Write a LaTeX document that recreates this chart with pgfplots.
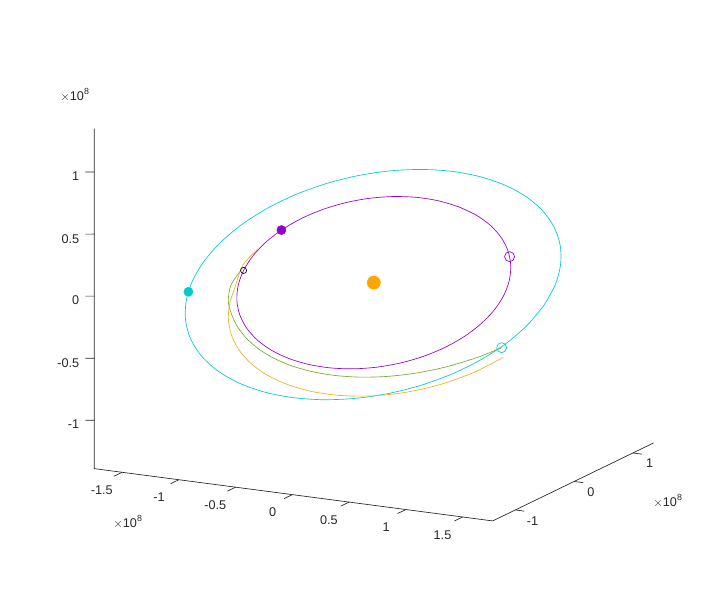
\documentclass[border=0pt]{standalone}
\usepackage{pgfplots}
\pgfplotsset{compat=1.18}
\usepackage{fontspec}
\setmainfont{Liberation Sans}
\definecolor{axiscol}{RGB}{38,38,38}
\definecolor{earthc}{RGB}{0,204,204}
\definecolor{venusc}{RGB}{148,0,211}
\definecolor{greenc}{RGB}{119,172,48}
\definecolor{orangec}{RGB}{237,177,32}
\definecolor{sunc}{RGB}{255,165,0}
\begin{document}
\begin{tikzpicture}
\begin{axis}[
  anchor=origin, at={(0pt,0pt)},
  x={(85.125pt,-11.175pt)}, y={(44.1pt,21.375pt)}, z={(0pt,93.075pt)},
  xmin=-1.745, xmax=1.765, ymin=-1.385, ymax=1.35, zmin=-1.39, zmax=1.35,
  clip=false,
  axis line style={draw=none},
  xtick={-1.5,-1,-0.5,0,0.5,1,1.5}, xticklabels={-1.5,-1,-0.5,0,0.5,1,1.5},
  ytick={-1,0,1}, yticklabels={-1,0,1},
  ztick={-1,-0.5,0,0.5,1}, zticklabels={-1,-0.5,0,0.5,1},
  tick align=outside, major tick length=6.5pt,
  tick style={draw=none},
  ticklabel style={font=\fontsize{9.5}{11}\selectfont, text=axiscol},
  xticklabel style={xshift=-4.5pt, yshift=-3pt},
  zticklabel style={xshift=-2pt, yshift=1pt},
]
% Earth orbit
\addplot3[earthc, line width=0.5pt, smooth] coordinates {
(1.5012,0,0) (1.4742,0.2385,0.1034) (1.4025,0.4683,0.2030) (1.2889,0.6828,0.2960)
(1.1370,0.8754,0.3795) (0.9518,1.0406,0.4512) (0.7388,1.1739,0.5090) (0.5044,1.2716,0.5513)
(0.2557,1.3308,0.5770) (0,1.3502,0.5854) (-0.2554,1.3291,0.5763) (-0.5032,1.2684,0.5500)
(-0.7361,1.1696,0.5071) (-0.9473,1.0357,0.4491) (-1.1305,0.8704,0.3774) (-1.2806,0.6784,0.2941)
(-1.3928,0.4651,0.2016) (-1.4633,0.2367,0.1026) (-1.4900,0,0) (-1.4716,-0.2380,-0.1032)
(-1.4083,-0.4703,-0.2039) (-1.3016,-0.6895,-0.2990) (-1.1544,-0.8889,-0.3854) (-0.9711,-1.0618,-0.4604)
(-0.7571,-1.2030,-0.5216) (-0.5188,-1.3078,-0.5670) (-0.2637,-1.3725,-0.5951) (0,-1.3950,-0.6048)
(0.2640,-1.3743,-0.5959) (0.5201,-1.3112,-0.5685) (0.7600,-1.2077,-0.5236) (0.9759,-1.0670,-0.4626)
(1.1611,-0.8940,-0.3876) (1.3101,-0.6940,-0.3009) (1.4183,-0.4736,-0.2053) (1.4825,-0.2397,-0.1039)
(1.5012,0,0)};
% Venus orbit
\addplot3[venusc, line width=0.5pt, smooth] coordinates {
(0.2493,0.9660,0.4188) (0.0630,0.9865,0.4398) (-0.1252,0.9772,0.4474) (-0.3097,0.9381,0.4415)
(-0.4847,0.8704,0.4221) (-0.6449,0.7764,0.3899) (-0.7856,0.6587,0.3459) (-0.9024,0.5211,0.2913)
(-0.9918,0.3675,0.2279) (-1.0511,0.2029,0.1576) (-1.0784,0.0321,0.0825) (-1.0730,-0.1397,0.0049)
(-1.0350,-0.3073,-0.0729) (-0.9653,-0.4656,-0.1485) (-0.8667,-0.6096,-0.2195) (-0.7415,-0.7351,-0.2839)
(-0.5938,-0.8384,-0.3396) (-0.4280,-0.9161,-0.3850) (-0.2493,-0.9660,-0.4188) (-0.0630,-0.9865,-0.4398)
(0.1252,-0.9772,-0.4474) (0.3097,-0.9381,-0.4415) (0.4847,-0.8704,-0.4221) (0.6449,-0.7764,-0.3899)
(0.7856,-0.6587,-0.3459) (0.9024,-0.5211,-0.2913) (0.9918,-0.3675,-0.2279) (1.0511,-0.2029,-0.1576)
(1.0784,-0.0321,-0.0825) (1.0730,0.1397,-0.0049) (1.0350,0.3073,0.0729) (0.9653,0.4656,0.1485)
(0.8667,0.6096,0.2195) (0.7415,0.7351,0.2839) (0.5938,0.8384,0.3396) (0.4280,0.9161,0.3850)
(0.2493,0.9660,0.4188)};
% transfer 1 (green)
\addplot3[greenc, line width=0.5pt, smooth] coordinates {
(1.4043,-0.5355,-0.2322) (1.2711,-0.6734,-0.2919) (1.0732,-0.8263,-0.3583) (0.8619,-0.9424,-0.4086)
(0.6438,-1.0230,-0.4435) (0.4247,-1.0706,-0.4642) (0.2090,-1.0877,-0.4716) (0,-1.0765,-0.4667)
(-0.1997,-1.0394,-0.4507) (-0.3881,-0.9783,-0.4242) (-0.5631,-0.8949,-0.3880) (-0.7232,-0.7907,-0.3428)
(-0.8664,-0.6671,-0.2892) (-0.9910,-0.5250,-0.2276) (-1.0725,-0.4043,-0.1753) (-1.1371,-0.2338,-0.1014)
(-1.1412,-0.0607,-0.0263)};
% transfer 2 (orange)
\addplot3[orangec, line width=0.5pt, smooth] coordinates {
(1.4725,-0.6398,-0.2774) (1.3234,-0.8502,-0.3686) (1.1244,-1.0316,-0.4473) (0.8925,-1.1694,-0.5070)
(0.6402,-1.2597,-0.5462) (0.3802,-1.3019,-0.5645) (0.1239,-1.2989,-0.5632) (-0.1197,-1.2547,-0.5440)
(-0.3431,-1.1749,-0.5094) (-0.5416,-1.0657,-0.4620) (-0.7117,-0.9326,-0.4044) (-0.8518,-0.7815,-0.3388)
(-0.9612,-0.6176,-0.2678) (-1.0398,-0.4449,-0.1929) (-1.0882,-0.2675,-0.1160) (-1.1555,0.0059,0.0025)
(-1.1267,0.2055,0.0891)};
% markers
\addplot3[only marks, mark=*, mark size=4.9pt, color=sunc] coordinates {(0,0,0)};
\addplot3[only marks, mark=*, mark size=3.4pt, color=earthc] coordinates {(-1.441,-0.3718,-0.1612)};
\addplot3[only marks, mark=*, mark size=3.4pt, color=venusc] coordinates {(-0.9977,0.3548,0.2226)};
\addplot3[only marks, mark=o, mark size=3.75pt, color=earthc, mark options={line width=0.5pt}] coordinates {(1.4043,-0.5355,-0.2322)};
\addplot3[only marks, mark=o, mark size=3.75pt, color=venusc, mark options={line width=0.5pt}] coordinates {(0.9094,0.5539,0.1917)};
\addplot3[only marks, mark=o, mark size=2.3pt, color=black, mark options={line width=0.5pt}] coordinates {(-1.0725,-0.1441,0.0029)};
% axis lines and ticks
\draw[axiscol, line width=0.5pt] (axis cs:-1.745,-1.385,1.35) -- (axis cs:-1.745,-1.385,-1.39) -- (axis cs:1.765,-1.385,-1.39) -- (axis cs:1.765,1.35,-1.39);
\pgfplotsinvokeforeach{-1.5,-1,-0.5,0,0.5,1,1.5}{
  \draw[axiscol, line width=0.5pt] (axis cs:#1,-1.385,-1.39) -- (axis cs:#1,-1.525,-1.39);
}
\pgfplotsinvokeforeach{-1,0,1}{
  \draw[axiscol, line width=0.5pt] (axis cs:1.765,#1,-1.39) -- (axis cs:1.845,#1,-1.39);
}
\pgfplotsinvokeforeach{-1,-0.5,0,0.5,1}{
  \draw[axiscol, line width=0.5pt] (axis cs:-1.745,-1.385,#1) -- (axis cs:-1.807,-1.418,#1);
}
\end{axis}
\node[text=axiscol, font=\fontsize{9.5}{11}\selectfont] at (-224.1pt,140.8pt) {$\times$10\textsuperscript{8}};
\node[text=axiscol, font=\fontsize{9.5}{11}\selectfont] at (-184.35pt,-179.5pt) {$\times$10\textsuperscript{8}};
\node[text=axiscol, font=\fontsize{9.5}{11}\selectfont] at (220.65pt,-163.7pt) {$\times$10\textsuperscript{8}};
\pgfresetboundingbox
\path[use as bounding box] (-280.35pt,212.0pt) rectangle (261.15pt,-231.2pt);
\end{tikzpicture}
\end{document}
